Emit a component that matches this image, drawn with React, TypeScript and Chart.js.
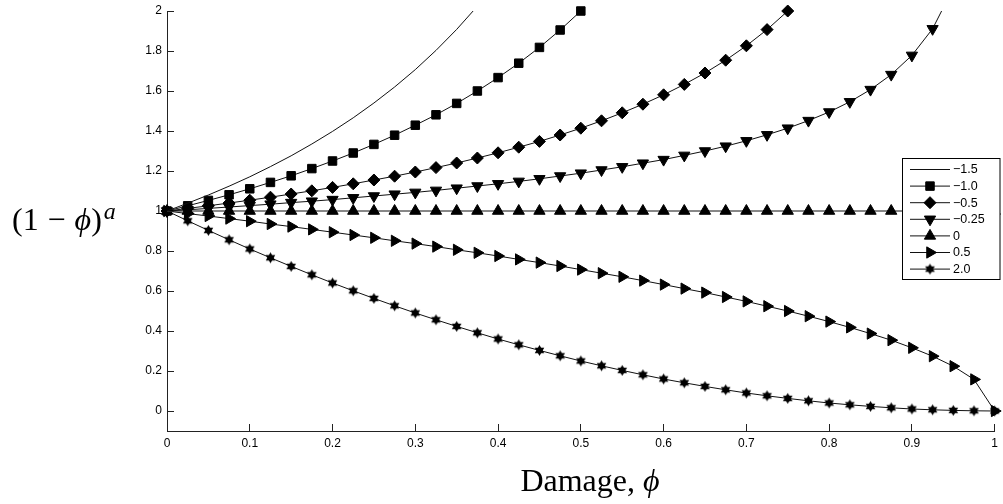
import React, { useEffect, useRef } from "react";
import { Chart, registerables } from "chart.js";

Chart.register(...registerables);

// ---------------- data ----------------
const phi = [0, 0.025, 0.05, 0.075, 0.1, 0.125, 0.15, 0.175, 0.2, 0.225, 0.25, 0.275, 0.3, 0.325, 0.35, 0.375, 0.4, 0.425, 0.45, 0.475, 0.5, 0.525, 0.55, 0.575, 0.6, 0.625, 0.65, 0.675, 0.7, 0.725, 0.75, 0.775, 0.8, 0.825, 0.85, 0.875, 0.9, 0.925, 0.95, 0.975, 1];

const aNeg15 = [1, 1.039, 1.08, 1.124, 1.171, 1.222, 1.276, 1.335, 1.398, 1.466, 1.54, 1.62, 1.707, 1.803, 1.908, 2.024];
const aNeg10 = [1, 1.026, 1.053, 1.081, 1.111, 1.143, 1.176, 1.212, 1.25, 1.29, 1.333, 1.379, 1.429, 1.481, 1.538, 1.6, 1.667, 1.739, 1.818, 1.905, 2.0];
const aNeg05 = [1, 1.013, 1.026, 1.04, 1.054, 1.069, 1.085, 1.101, 1.118, 1.136, 1.155, 1.174, 1.195, 1.217, 1.24, 1.265, 1.291, 1.319, 1.348, 1.38, 1.414, 1.451, 1.491, 1.534, 1.581, 1.633, 1.69, 1.754, 1.826, 1.907, 2.0];
const aNeg025 = [1, 1.006, 1.013, 1.02, 1.027, 1.034, 1.042, 1.049, 1.057, 1.066, 1.075, 1.084, 1.093, 1.103, 1.114, 1.125, 1.136, 1.148, 1.161, 1.175, 1.189, 1.205, 1.221, 1.239, 1.257, 1.278, 1.3, 1.324, 1.351, 1.381, 1.414, 1.452, 1.495, 1.546, 1.607, 1.682, 1.778, 1.911, 2.115];
const a0 = [1, 1, 1, 1, 1, 1, 1, 1, 1, 1, 1, 1, 1, 1, 1, 1, 1, 1, 1, 1, 1, 1, 1, 1, 1, 1, 1, 1, 1, 1, 1, 1, 1, 1, 1, 1, 1, 1, 1, 1, 1];
const a05 = [1, 0.987, 0.975, 0.962, 0.949, 0.935, 0.922, 0.908, 0.894, 0.88, 0.866, 0.851, 0.837, 0.822, 0.806, 0.791, 0.775, 0.758, 0.742, 0.725, 0.707, 0.689, 0.671, 0.652, 0.632, 0.612, 0.592, 0.57, 0.548, 0.524, 0.5, 0.474, 0.447, 0.418, 0.387, 0.354, 0.316, 0.274, 0.224, 0.158, 0];
const a2 = [1, 0.951, 0.903, 0.856, 0.81, 0.766, 0.723, 0.681, 0.64, 0.601, 0.563, 0.526, 0.49, 0.456, 0.423, 0.391, 0.36, 0.331, 0.303, 0.276, 0.25, 0.226, 0.203, 0.181, 0.16, 0.141, 0.123, 0.106, 0.09, 0.076, 0.063, 0.051, 0.04, 0.031, 0.023, 0.016, 0.01, 0.006, 0.003, 0.001, 0];

const seriesLabels = ["\u22121.5", "\u22121.0", "\u22120.5", "\u22120.25", "0", "0.5", "2.0"];
const seriesValues = [aNeg15, aNeg10, aNeg05, aNeg025, a0, a05, a2];

const xTicks = [0, 0.1, 0.2, 0.3, 0.4, 0.5, 0.6, 0.7, 0.8, 0.9, 1];
const yTicks = [0, 0.2, 0.4, 0.6, 0.8, 1, 1.2, 1.4, 1.6, 1.8, 2];

// ---------------- styles ----------------
const AXIS = "#222";
const LINE = "#111";
const TICK_FONT = '"Liberation Sans", Arial, Helvetica, sans-serif';

function makeStar(r: number): HTMLCanvasElement {
  const size = Math.ceil(r * 2 + 2);
  const c = document.createElement("canvas");
  c.width = size;
  c.height = size;
  const ctx = c.getContext("2d")!;
  const cx = size / 2;
  const cy = size / 2;
  ctx.fillStyle = "#000";
  for (const off of [0, Math.PI]) {
    ctx.beginPath();
    for (let k = 0; k < 3; k++) {
      const a = off + (k * 2 * Math.PI) / 3;
      const px = cx + Math.sin(a) * r;
      const py = cy - Math.cos(a) * r;
      if (k === 0) ctx.moveTo(px, py);
      else ctx.lineTo(px, py);
    }
    ctx.closePath();
    ctx.fill();
  }
  return c;
}

type MarkerSpec = { style: any; rotation: number; radius: number };

function drawMarker(ctx: CanvasRenderingContext2D, m: MarkerSpec, x: number, y: number) {
  if (!m.style || m.radius <= 0) return;
  if (typeof m.style !== "string") {
    ctx.drawImage(m.style, x - m.style.width / 2, y - m.style.height / 2);
    return;
  }
  const r = m.radius;
  ctx.beginPath();
  if (m.style === "rect") {
    const s = Math.SQRT1_2 * r;
    ctx.rect(x - s, y - s, 2 * s, 2 * s);
  } else if (m.style === "rectRot") {
    ctx.moveTo(x, y - r);
    ctx.lineTo(x + r, y);
    ctx.lineTo(x, y + r);
    ctx.lineTo(x - r, y);
    ctx.closePath();
  } else if (m.style === "triangle") {
    let a = (m.rotation * Math.PI) / 180;
    for (let k = 0; k < 3; k++) {
      const px = x + Math.sin(a) * r;
      const py = y - Math.cos(a) * r;
      if (k === 0) ctx.moveTo(px, py);
      else ctx.lineTo(px, py);
      a += (2 * Math.PI) / 3;
    }
    ctx.closePath();
  }
  ctx.fill();
  ctx.stroke();
}

const fmt = (v: number) => String(Math.round(v * 10) / 10);

export default function App() {
  const ref = useRef<HTMLCanvasElement | null>(null);

  useEffect(() => {
    const canvas = ref.current;
    if (!canvas) return;
    const star = makeStar(5.5);

    const markers: MarkerSpec[] = [
      { style: false, rotation: 0, radius: 0 },
      { style: "rect", rotation: 0, radius: 6 },
      { style: "rectRot", rotation: 0, radius: 6 },
      { style: "triangle", rotation: 180, radius: 6.5 },
      { style: "triangle", rotation: 0, radius: 6.5 },
      { style: "triangle", rotation: 90, radius: 6.5 },
      { style: star, rotation: 0, radius: 5.5 },
    ];
    const clips: any[] = [
      { left: 0.5, top: 0, right: 0.5, bottom: 0.5 },
      false,
      false,
      { left: 20, top: 0, right: 20, bottom: 20 },
      false,
      false,
      false,
    ];

    const datasets = seriesValues.map((vals, i) => ({
      label: seriesLabels[i],
      data: vals.map((v, j) => ({ x: phi[j], y: v })),
      borderColor: LINE,
      borderWidth: 1,
      backgroundColor: "#000",
      pointBackgroundColor: "#000",
      pointBorderColor: "#000",
      pointBorderWidth: 1,
      pointRadius: markers[i].radius,
      pointStyle: markers[i].style,
      pointRotation: markers[i].rotation,
      tension: 0,
      fill: false,
      clip: clips[i],
    }));

    const inwardTicks = {
      id: "inwardTicks",
      afterDatasetsDraw(chart: any) {
        const { ctx, chartArea: a, scales } = chart;
        const al = (p: number) => Math.round(p - 0.5) + 0.5;
        ctx.save();
        ctx.strokeStyle = AXIS;
        ctx.lineWidth = 1;
        ctx.beginPath();
        for (const v of xTicks) {
          const px = al(scales.x.getPixelForValue(v));
          ctx.moveTo(px, a.bottom);
          ctx.lineTo(px, a.bottom - 7);
        }
        for (const v of yTicks) {
          const py = al(scales.y.getPixelForValue(v));
          ctx.moveTo(a.left, py);
          ctx.lineTo(a.left + 7, py);
        }
        ctx.stroke();
        ctx.restore();
      },
    };

    const boxLegend = {
      id: "boxLegend",
      afterDraw(chart: any) {
        const { ctx } = chart;
        const bx = 902.5, by = 158.5, bw = 97.5, bh = 121;
        ctx.save();
        ctx.fillStyle = "#fff";
        ctx.fillRect(bx, by, bw, bh);
        ctx.strokeStyle = "#000";
        ctx.lineWidth = 1;
        ctx.strokeRect(bx, by, bw, bh);
        ctx.font = `12.5px ${TICK_FONT}`;
        ctx.textBaseline = "middle";
        ctx.textAlign = "left";
        seriesLabels.forEach((lab, i) => {
          const y = 169.5 + i * 16.6;
          ctx.strokeStyle = LINE;
          ctx.beginPath();
          ctx.moveTo(910, y);
          ctx.lineTo(950, y);
          ctx.stroke();
          ctx.fillStyle = "#000";
          ctx.strokeStyle = "#000";
          drawMarker(ctx, markers[i], 930, y);
          ctx.fillStyle = "#000";
          ctx.fillText(lab, 953, y + 0.5);
        });
        ctx.restore();
      },
    };

    const chart = new Chart(canvas, {
      type: "line",
      data: { datasets: datasets as any },
      options: {
        animation: false,
        responsive: false,
        devicePixelRatio: 1,
        events: [],
        layout: { padding: { left: 0, right: 3, top: 6.5, bottom: 0 } },
        plugins: { legend: { display: false }, tooltip: { enabled: false } },
        scales: {
          x: {
            type: "linear",
            min: 0,
            max: 1,
            afterFit: (s: any) => {
              s.height = 73;
            },
            afterBuildTicks: (s: any) => {
              s.ticks = xTicks.map((v) => ({ value: v }));
            },
            grid: { display: false, drawTicks: false },
            border: { display: true, color: AXIS, width: 1 },
            ticks: {
              padding: 5,
              color: "#000",
              autoSkip: false,
              maxRotation: 0,
              font: { family: TICK_FONT, size: 12 },
              callback: (v: any) => fmt(Number(v)),
            },
          },
          y: {
            type: "linear",
            min: -0.1,
            max: 2,
            afterFit: (s: any) => {
              s.width = 167;
            },
            afterBuildTicks: (s: any) => {
              s.ticks = yTicks.map((v) => ({ value: v }));
            },
            grid: { display: false, drawTicks: false },
            border: { display: true, color: AXIS, width: 1 },
            ticks: {
              padding: 5,
              color: "#000",
              autoSkip: false,
              font: { family: TICK_FONT, size: 12, lineHeight: 1 },
              callback: (v: any) => fmt(Number(v)),
            },
          },
        },
      },
      plugins: [inwardTicks, boxLegend],
    });

    return () => chart.destroy();
  }, []);

  const serif = '"Liberation Serif", "Times New Roman", "DejaVu Serif", serif';

  return (
    <div
      style={{
        position: "fixed",
        left: 0,
        top: 0,
        width: 1003,
        height: 504,
        background: "#fff",
        overflow: "hidden",
      }}
    >
      <canvas ref={ref} width={1003} height={504} style={{ display: "block", width: 1003, height: 504 }} />
      <div
        style={{
          position: "absolute",
          left: 12,
          top: 203,
          fontFamily: serif,
          fontSize: 32,
          lineHeight: "32px",
          whiteSpace: "nowrap",
          color: "#000",
        }}
      >
        (1<span style={{ margin: "0 0.28em" }}>{"\u2212"}</span>
        <i>{"\u03D5"}</i>)
        <i style={{ fontSize: 24, position: "relative", top: -11, marginLeft: 2 }}>a</i>
      </div>
      <div
        style={{
          position: "absolute",
          left: 590,
          top: 464,
          transform: "translateX(-50%)",
          fontFamily: serif,
          fontSize: 32,
          lineHeight: "32px",
          whiteSpace: "nowrap",
          color: "#000",
        }}
      >
        Damage, <i>{"\u03D5"}</i>
      </div>
    </div>
  );
}
